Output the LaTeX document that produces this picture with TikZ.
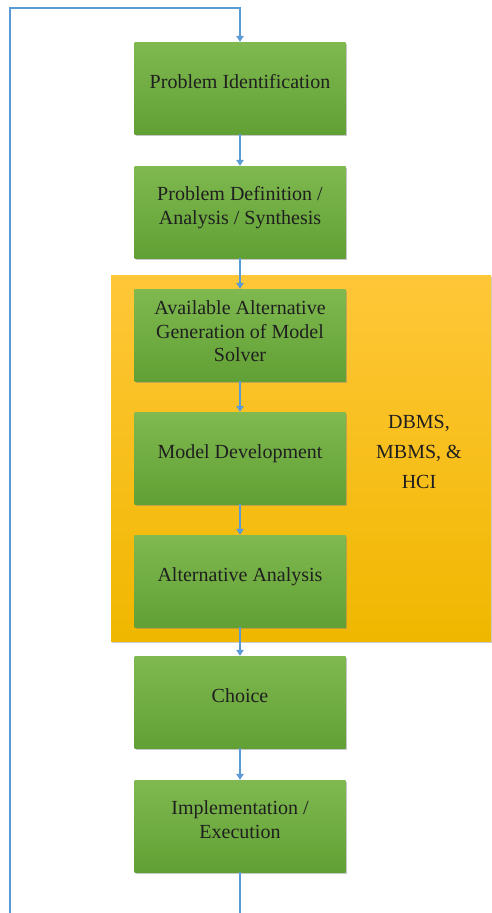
\documentclass[tikz,border=0pt]{standalone}
\usepackage{fontspec}
\setmainfont{Liberation Serif}
\usetikzlibrary{arrows.meta,shadows}

\definecolor{leafhi}{RGB}{127,185,80}
\definecolor{leaflo}{RGB}{97,160,52}
\definecolor{ambhi}{RGB}{255,199,56}
\definecolor{amblo}{RGB}{240,183,0}
\definecolor{wire}{RGB}{91,155,213}

\tikzset{
  stage/.style={rectangle, minimum width=211pt, minimum height=92pt, inner sep=0pt,
    top color=leafhi, bottom color=leaflo, text=black!88, align=center,
    text depth=13pt, font=\fontsize{20}{23.5}\selectfont,
    drop shadow={shadow xshift=1pt, shadow yshift=-2pt, opacity=.45}},
  flow/.style={wire, line width=1.2pt, -{Triangle[width=7.5pt,length=6pt]}},
}

\begin{document}
\begin{tikzpicture}[x=1pt,y=-1pt]
  \useasboundingbox (0,0) rectangle (492,913);

  % support panel behind the modelling stages
  \fill[top color=ambhi, bottom color=amblo,
    drop shadow={shadow xshift=1pt, shadow yshift=-2pt, opacity=.4}]
    (111,275) rectangle (491,641);
  \node[align=center, text=black!88, font=\fontsize{20}{30}\selectfont] (dss) at (419,452)
    {DBMS,\\MBMS, \&\\HCI};

  % the stages, top to bottom
  \node[stage] (ident) at (240,88) {Problem Identification};
  \node[stage] (define) at (240,212) {Problem Definition /\\Analysis / Synthesis};
  \node[stage, text depth=7pt] (gen) at (240,335) {Available Alternative\\Generation of Model\\Solver};
  \node[stage] (model) at (240,458) {Model Development};
  \node[stage] (alt) at (240,581) {Alternative Analysis};
  \node[stage] (choice) at (240,702) {Choice};
  \node[stage] (impl) at (240,826) {Implementation /\\Execution};

  \draw[flow] (ident) -- (define);
  \draw[flow] (define) -- (gen);
  \draw[flow] (gen) -- (model);
  \draw[flow] (model) -- (alt);
  \draw[flow] (alt) -- (choice);
  \draw[flow] (choice) -- (impl);

  % feedback back to the first stage
  \coordinate (bl) at (10,914);
  \coordinate (tl) at (10,8);
  \draw[flow] (impl) -- (impl |- bl) -- (bl) -- (tl) -- (tl -| ident) -- (ident);
\end{tikzpicture}
\end{document}
